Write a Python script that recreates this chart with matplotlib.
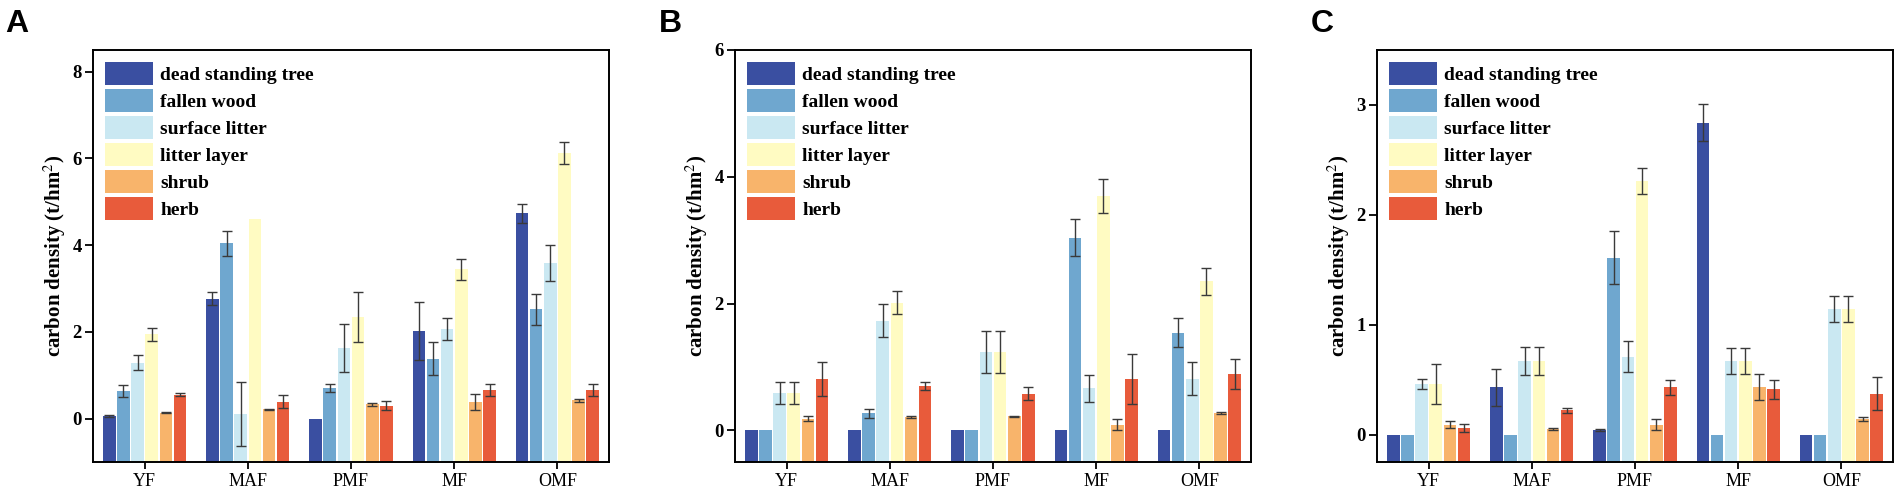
import numpy as np
import matplotlib
matplotlib.use("Agg")
import matplotlib.pyplot as plt

# categories and series
sites = ["YF", "MAF", "PMF", "MF", "OMF"]
parts = ["dead standing tree", "fallen wood", "surface litter", "litter layer", "shrub", "herb"]
colors = ["#3A4FA1", "#6FA7CF", "#CAE8F2", "#FFFBC2", "#F8B46B", "#E85B3B"]

# panel A: mean per part (rows) and site (cols)
a_mean = [
    [0.06, 2.77, 0.00, 2.02, 4.73],
    [0.64, 4.04, 0.70, 1.38, 2.52],
    [1.29, 0.10, 1.63, 2.06, 3.59],
    [1.94, 4.61, 2.35, 3.44, 6.12],
    [0.14, 0.22, 0.33, 0.38, 0.42],
    [0.55, 0.39, 0.30, 0.67, 0.67],
]
a_err = [
    [0.02, 0.15, 0.00, 0.67, 0.22],
    [0.14, 0.29, 0.09, 0.38, 0.35],
    [0.18, 0.74, 0.55, 0.25, 0.41],
    [0.14, 0.00, 0.58, 0.25, 0.25],
    [0.01, 0.01, 0.03, 0.18, 0.04],
    [0.03, 0.15, 0.10, 0.14, 0.14],
]

# panel B
b_mean = [
    [0.00, 0.00, 0.00, 0.00, 0.00],
    [0.00, 0.27, 0.00, 3.04, 1.54],
    [0.59, 1.73, 1.23, 0.66, 0.81],
    [0.59, 2.01, 1.23, 3.70, 2.35],
    [0.18, 0.21, 0.22, 0.09, 0.27],
    [0.81, 0.70, 0.58, 0.81, 0.89],
]
b_err = [
    [0.00, 0.00, 0.00, 0.00, 0.00],
    [0.00, 0.07, 0.00, 0.29, 0.23],
    [0.18, 0.26, 0.33, 0.21, 0.26],
    [0.18, 0.18, 0.33, 0.27, 0.21],
    [0.04, 0.02, 0.01, 0.09, 0.02],
    [0.27, 0.07, 0.10, 0.40, 0.24],
]

# panel C
c_mean = [
    [0.00, 0.43, 0.04, 2.84, 0.00],
    [0.00, 0.00, 1.61, 0.00, 0.00],
    [0.46, 0.67, 0.71, 0.67, 1.14],
    [0.46, 0.67, 2.31, 0.67, 1.14],
    [0.09, 0.05, 0.09, 0.43, 0.14],
    [0.06, 0.22, 0.43, 0.41, 0.37],
]
c_err = [
    [0.00, 0.17, 0.01, 0.17, 0.00],
    [0.00, 0.00, 0.24, 0.00, 0.00],
    [0.05, 0.13, 0.14, 0.12, 0.12],
    [0.18, 0.13, 0.12, 0.12, 0.12],
    [0.03, 0.01, 0.05, 0.12, 0.02],
    [0.04, 0.025, 0.07, 0.09, 0.15],
]

panels = [
    ("A", a_mean, a_err, (-1, 8.5), [0, 2, 4, 6, 8]),
    ("B", b_mean, b_err, (-0.5, 6), [0, 2, 4, 6]),
    ("C", c_mean, c_err, (-0.25, 3.5), [0, 1, 2, 3]),
]

plt.rcParams["mathtext.fontset"] = "stix"

W, H = 1901, 493
fig = plt.figure(figsize=(W / 100, H / 100), dpi=100)
serif = "Liberation Serif"

lefts = [93, 735, 1377]
letter_x = [17, 670, 1322]
ax_w, ax_top, ax_bot = 516, 50, 462
x = np.arange(len(sites))
pitch = 0.137
width = 0.122

for k, (letter, mean, err, ylim, yticks) in enumerate(panels):
    ax = fig.add_axes([lefts[k] / W, (H - ax_bot) / H, ax_w / W, (ax_bot - ax_top) / H])
    ybot = ylim[0]
    for i in range(len(parts)):
        pos = x + (i - 2.5) * pitch
        m = np.array(mean[i])
        e = np.array(err[i])
        # bars rise from the bottom of the axes, like the original
        ax.bar(pos, m - ybot, width, bottom=ybot, color=colors[i], label=parts[i], zorder=2)
        keep = e > 0
        ax.errorbar(pos[keep], m[keep], yerr=e[keep], fmt="none", ecolor="#3a3a3a",
                    elinewidth=1, capsize=3.5, capthick=1, zorder=3)
    ax.set_xlim(-0.5, 4.5)
    ax.set_ylim(*ylim)
    ax.set_yticks(yticks)
    ax.set_xticks(x)
    ax.set_xticklabels(sites, fontfamily=serif, fontsize=13)
    ax.set_yticklabels([str(t) for t in yticks], fontfamily=serif, fontsize=13.5, fontweight="bold")
    ax.tick_params(axis="y", length=6, width=1.3, pad=2)
    ax.tick_params(axis="x", length=5, width=1.3, pad=3)
    for sp in ax.spines.values():
        sp.set_linewidth(1.4)
    ax.set_ylabel("carbon density (t/hm$^2$)", fontfamily=serif, fontsize=15,
                  fontweight="bold", labelpad=3)
    ax.legend(loc="upper left", frameon=False, prop={"family": serif, "weight": "bold", "size": 14},
              handlelength=2.5, handleheight=1.45, labelspacing=0.2, handletextpad=0.35,
              borderaxespad=0.4, borderpad=0.2)
    fig.text(letter_x[k] / W, 1 - 24 / H, letter, fontfamily="Liberation Sans", fontweight="bold",
             fontsize=23, ha="center", va="center")

fig.savefig("out.png", dpi=100)
